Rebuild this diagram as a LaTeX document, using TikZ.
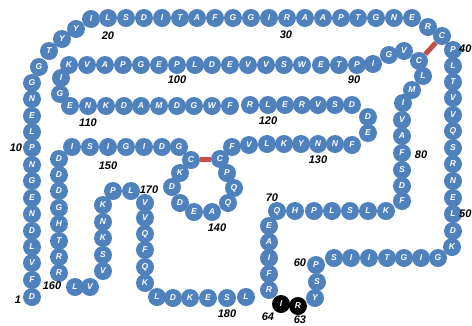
\documentclass[tikz,border=0pt]{standalone}
\usepackage{fontspec}
\setmainfont{Liberation Sans}
\definecolor{resblue}{RGB}{79,129,189}
\definecolor{ssred}{RGB}{192,80,77}
\begin{document}
\begin{tikzpicture}[x=1pt,y=-1pt,
  res/.style={circle,fill=resblue,draw=none,minimum size=18pt,inner sep=0pt,
    text=white,font=\fontsize{8.5}{8.5}\selectfont\bfseries\itshape},
  resblack/.style={res,fill=black},
  num/.style={inner sep=0pt,text=black,font=\fontsize{11}{11}\selectfont\bfseries\itshape},
  ssbond/.style={draw=ssred,line width=5pt}]
\useasboundingbox (0,0) rectangle (472,325);
\foreach \n/\x/\y/\rl in {
1/32/297/D,2/32/280/F,3/32/263/V,4/32/247/L,5/32/231/D,6/32/214/N,7/32/198/E,8/32/181/G,9/32/165/N,10/32/148/P,
11/32/132/L,12/32/116/E,13/32/99/N,14/32/83/G,15/39/67/G,16/49/51/T,17/62/39/Y,18/76/29/Y,19/91/19/I,20/108/18/L,
21/126/18/S,22/144/18/D,23/162/18/I,24/180/18/T,25/197/18/A,26/215/18/F,27/233/18/G,28/251/18/G,29/269/18/I,30/287/18/R,
31/305/18/A,32/323/18/A,33/341/18/P,34/358/18/T,35/376/18/G,36/394/18/N,37/412/18/E,38/428/27/R,39/442/36/C,40/453/50/P,
41/453/66/L,42/453/82/T,43/453/98/V,44/453/115/V,45/453/131/Q,46/453/148/S,47/453/164/R,48/453/181/N,49/453/198/E,50/453/214/L,
51/453/231/D,52/452/247/K,53/438/258/G,54/421/258/I,55/404/258/G,56/387/258/T,57/369/258/I,58/351/258/I,59/334/258/S,60/316/265/P,
61/317/282/S,62/315/298/Y,
65/269/290/R,66/269/274/F,67/269/258/I,68/269/242/A,69/269/226/E,70/277/211/Q,
71/295/211/H,72/314/211/P,73/332/211/L,74/350/211/S,75/368/211/L,76/386/211/K,77/402/201/F,78/402/186/D,79/402/170/S,80/402/153/F,
81/402/136/A,82/402/120/V,83/403/103/I,84/412/90/M,85/423/76/L,86/419/61/C,87/404/51/V,88/389/55/G,89/373/64/I,90/357/65/P,
91/339/65/T,92/321/65/E,93/302/65/W,94/284/65/S,95/266/65/V,96/248/65/V,97/230/65/E,98/212/65/D,99/195/65/L,100/177/65/P,
101/159/65/E,102/141/65/G,103/123/65/P,104/105/65/A,105/87/65/V,106/69/65/K,107/61/78/I,108/60/94/G,109/70/106/E,110/88/106/N,
111/106/106/K,112/124/106/D,113/141/106/A,114/159/106/M,115/177/106/D,116/194/106/G,117/212/106/W,118/230/106/F,119/250/105/R,120/268/105/L,
121/285/105/E,122/302/105/R,123/318/105/V,124/335/105/S,125/352/105/D,126/368/117/D,127/368/133/E,128/352/145/F,129/335/144/N,130/318/144/N,
131/301/144/Y,132/284/144/K,133/267/144/L,134/249/145/V,135/232/147/F,136/220/159/C,137/227/173/P,138/234/188/Q,139/228/203/Q,140/212/212/A,
141/194/212/E,142/180/203/D,143/172/187/D,144/180/173/K,145/191/160/C,146/179/147/G,147/162/147/D,148/144/147/I,149/126/147/G,150/108/147/I,
151/90/147/S,152/72/147/I,153/59/159/D,154/59/175/D,155/59/191/D,156/59/208/G,157/59/224/H,158/59/241/T,159/59/257/R,160/59/273/R,
161/75/287/L,162/90/287/V,163/103/271/V,164/103/255/S,165/103/238/K,166/103/222/N,167/103/205/K,168/113/191/P,169/131/191/L,170/145/203/V,
171/145/218/V,172/145/234/Q,173/145/250/F,174/145/267/Q,175/145/283/K,176/157/297/L,177/173/298/D,178/190/298/K,179/208/298/E,180/227/298/S,
181/246/297/L}
  {\node[res] (r\n) at (\x,\y) {\rl};}
\node[resblack] (r63) at (298,306) {R};
\node[resblack] (r64) at (281,304) {I};
% disulfide bonds
\draw[ssbond] (r39) -- (r86);
\draw[ssbond] (r145) -- (r136);
% position labels
\node[num] (l1) at (18,300) {1};
\node[num] (l10) at (16,148) {10};
\node[num] (l20) at (108,36) {20};
\node[num] (l30) at (286,35) {30};
\node[num,anchor=west] (l40) at (459,49) {40};
\node[num,anchor=west] (l50) at (459,214) {50};
\node[num] (l60) at (300,263) {60};
\node[num] (l63) at (300,320) {63};
\node[num] (l64) at (268,317) {64};
\node[num] (l70) at (272,198) {70};
\node[num] (l80) at (421,155) {80};
\node[num] (l90) at (354,80) {90};
\node[num] (l100) at (177,80) {100};
\node[num] (l110) at (88,123) {110};
\node[num] (l120) at (268,121) {120};
\node[num] (l130) at (318,160) {130};
\node[num] (l140) at (217,228) {140};
\node[num] (l150) at (108,166) {150};
\node[num] (l160) at (52,286) {160};
\node[num] (l170) at (149,190) {170};
\node[num] (l180) at (227,314) {180};
\end{tikzpicture}
\end{document}
